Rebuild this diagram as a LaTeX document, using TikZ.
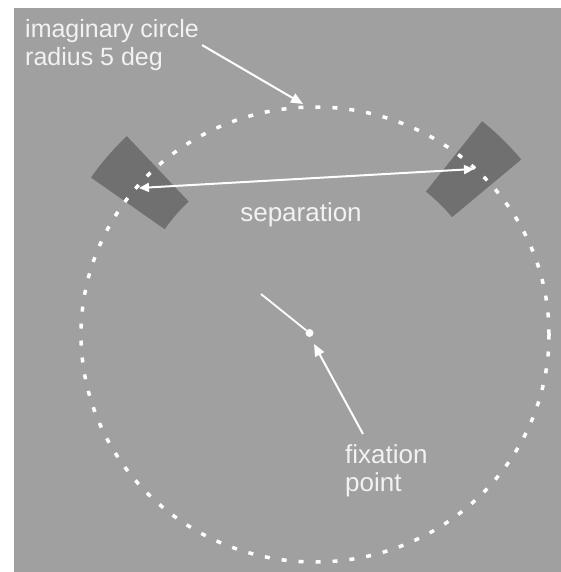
\documentclass[tikz,border=0pt]{standalone}
\usepackage{fontspec}
\setmainfont{Liberation Sans}
\usetikzlibrary{arrows.meta,calc}
\definecolor{bgc}{HTML}{A0A0A0}
\definecolor{patchc}{HTML}{707070}
\definecolor{txtc}{HTML}{F2F2F2}
\begin{document}
\begin{tikzpicture}[x=1pt,y=-1pt,
  lbl/.style={text=txtc, inner sep=0pt, font=\fontsize{25}{28.5}\selectfont},
  arr/.style={draw=white, line width=2pt, -{Triangle[length=12pt,width=10pt]}},
  dblarr/.style={draw=white, line width=2pt, {Triangle[length=10pt,width=9pt]}-{Triangle[length=10pt,width=9pt]}},
  patch/.style={fill=patchc},
  dashcirc/.style={draw=white, line width=3.5pt, dash pattern=on 5pt off 12pt}]
\useasboundingbox (0,0) rectangle (561,572);
\fill[bgc] (14,8) rectangle (561,572);
% patches (annular sectors around the fixation point)
\fill[patch] plot[domain=-145:-133.4, samples=12] ({313+271*cos(\x)},{333+271*sin(\x)})
  -- plot[domain=-133.4:-145, samples=12] ({313+181*cos(\x)},{333+181*sin(\x)}) -- cycle;
\fill[patch] plot[domain=-51.4:-39.8, samples=12] ({313+271*cos(\x)},{333+271*sin(\x)})
  -- plot[domain=-39.8:-51.4, samples=12] ({313+181*cos(\x)},{333+181*sin(\x)}) -- cycle;
% imaginary circle
\draw[dashcirc] (315,334.5) ellipse [x radius=234, y radius=227.5];
% labels
\node[lbl, anchor=north west, align=left] (circlelbl) at (25,19) {imaginary circle\\radius 5 deg};
\node[lbl, anchor=base, font=\fontsize{26}{28.5}\selectfont] (seplbl) at (301,221.5) {separation};
\node[lbl, anchor=north west, align=left, font=\fontsize{26}{28.5}\selectfont] (fixlbl) at (345,444) {fixation\\point};
% fixation point
\node[circle, fill=white, inner sep=0pt, minimum size=8pt] (fix) at (309.5,333) {};
\coordinate (ray) at (261,294);
\draw[draw=white, line width=1.8pt] (ray) -- (fix);
% connectors
\coordinate (circtip) at (303,104);
\draw[arr] ([xshift=3pt]circlelbl.east) -- (circtip);
\coordinate (sepL) at (139,188);
\coordinate (sepR) at (474,169);
\draw[dblarr] (sepL) -- (sepR);
\coordinate (fixtail) at (363,434);
\coordinate (fixtip) at (314,344);
\draw[arr] (fixtail) -- (fixtip);
\end{tikzpicture}
\end{document}
